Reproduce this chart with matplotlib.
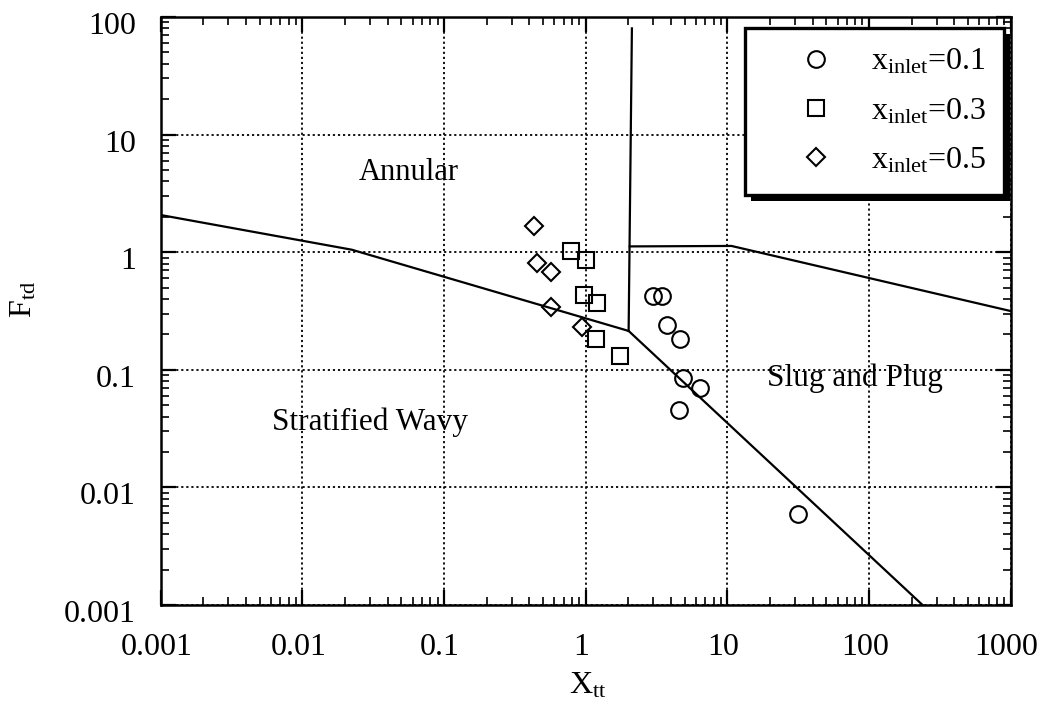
import matplotlib
matplotlib.use("Agg")
import matplotlib.pyplot as plt
import matplotlib.patheffects as pe
import matplotlib.transforms as mtransforms
from matplotlib.ticker import LogLocator, FixedLocator, NullFormatter

plt.rcParams['font.family'] = ['Liberation Serif', 'DejaVu Serif']
plt.rcParams['mathtext.fontset'] = 'custom'
plt.rcParams['mathtext.rm'] = 'Liberation Serif'
plt.rcParams['mathtext.it'] = 'Liberation Serif:italic'

# Data: x_inlet series (Xtt, Ftd)
x01_x = [2.97, 3.43, 3.78, 4.60, 4.83, 6.37, 4.53, 31.8]
x01_y = [0.425, 0.425, 0.240, 0.183, 0.085, 0.070, 0.0455, 0.00594]
x03_x = [0.794, 1.01, 0.966, 1.21, 1.19, 1.76]
x03_y = [1.02, 0.86, 0.433, 0.370, 0.183, 0.131]
x05_x = [0.435, 0.450, 0.565, 0.565, 0.936]
x05_y = [1.67, 0.81, 0.68, 0.342, 0.231]

# Flow-regime boundaries
sw_x = [0.001, 0.0223, 2.01]
sw_y = [2.07, 1.05, 0.214]
vert_x = [2.01, 2.12]
vert_y = [0.214, 80]
top_x = [2.05, 10.7, 1000]
top_y = [1.12, 1.13, 0.316]
low_x = [2.01, 239]
low_y = [0.214, 0.001]

labels = ['0.1', '0.3', '0.5']
xticks = [0.001, 0.01, 0.1, 1, 10, 100, 1000]
xticklabels = ['0.001', '0.01', '0.1', '1', '10', '100', '1000']
yticks = [0.001, 0.01, 0.1, 1, 10, 100]
yticklabels = ['0.001', '0.01', '0.1', '1', '10', '100']

fig = plt.figure(figsize=(10.44, 7.08), dpi=100)
ax = fig.add_axes([0.154, 0.1455, 0.814, 0.8305])
ax.set_xscale('log')
ax.set_yscale('log')
ax.set_xlim(0.001, 1000)
ax.set_ylim(0.001, 100)

ax.grid(True, which='major', linestyle=(0, (1.2, 1.6)), color='black', linewidth=1.3)

for xs, ys in [(sw_x, sw_y), (vert_x, vert_y), (top_x, top_y), (low_x, low_y)]:
    ax.plot(xs, ys, color='black', linewidth=1.6, zorder=3)

mk = dict(linestyle='none', markerfacecolor='none', markeredgecolor='black',
          markeredgewidth=1.5, zorder=4)
h1, = ax.plot(x01_x, x01_y, marker='o', markersize=12, **mk)
h2, = ax.plot(x03_x, x03_y, marker='s', markersize=12, **mk)
h3, = ax.plot(x05_x, x05_y, marker='D', markersize=9.5, **mk)

leg = ax.legend([h1, h2, h3], [r'x$_{\rm inlet}$=' + l for l in labels],
                loc='upper left', bbox_to_anchor=(0.687, 0.981, 0.305, 0.0),
                mode='expand', fontsize=23, frameon=True, fancybox=False,
                edgecolor='black', framealpha=1, borderpad=0.6,
                labelspacing=0.62, handletextpad=0.05, handlelength=3.3,
                borderaxespad=0)
frame = leg.get_frame()
frame.set_linewidth(2.4)
frame.set_path_effects([pe.SimplePatchShadow(offset=(4.5, -4.5), shadow_rgbFace='black', alpha=1.0),
                        pe.Normal()])

ax.text(0.056, 4.8, 'Annular', fontsize=22, ha='center', va='center')
ax.text(0.0298, 0.036, 'Stratified Wavy', fontsize=22.5, ha='center', va='center')
ax.text(79, 0.085, 'Slug and Plug', fontsize=22.5, ha='center', va='center')

ax.xaxis.set_major_locator(FixedLocator(xticks))
ax.set_xticklabels(xticklabels)
ax.yaxis.set_major_locator(FixedLocator(yticks))
ax.set_yticklabels(yticklabels)
ax.xaxis.set_minor_locator(LogLocator(base=10, subs=range(2, 10), numticks=20))
ax.yaxis.set_minor_locator(LogLocator(base=10, subs=range(2, 10), numticks=20))
ax.xaxis.set_minor_formatter(NullFormatter())
ax.yaxis.set_minor_formatter(NullFormatter())
ax.tick_params(which='both', direction='in', top=True, right=True, color='black')
ax.tick_params(which='major', length=11, width=1.6, labelsize=23)
ax.tick_params(axis='x', which='major', pad=20)
ax.tick_params(axis='y', which='major', pad=18)
ax.tick_params(which='minor', length=6, width=1.2)
for s in ax.spines.values():
    s.set_linewidth(1.8)

# shift y tick labels slightly downward, x tick labels slightly left (as in original)
dy = mtransforms.ScaledTranslation(0, -6 / 100, fig.dpi_scale_trans)
for lab in ax.get_yticklabels():
    lab.set_transform(lab.get_transform() + dy)
dx = mtransforms.ScaledTranslation(-4 / 100, 0, fig.dpi_scale_trans)
for lab in ax.get_xticklabels():
    lab.set_transform(lab.get_transform() + dx)

ax.set_xlabel(r'X$_{\rm tt}$', fontsize=23)
ax.set_ylabel(r'F$_{\rm td}$', fontsize=23)
ax.xaxis.set_label_coords(0.503, -0.113, transform=ax.transAxes)
ax.yaxis.set_label_coords(-0.144, 0.52, transform=ax.transAxes)

fig.savefig('out.png', dpi=100)
